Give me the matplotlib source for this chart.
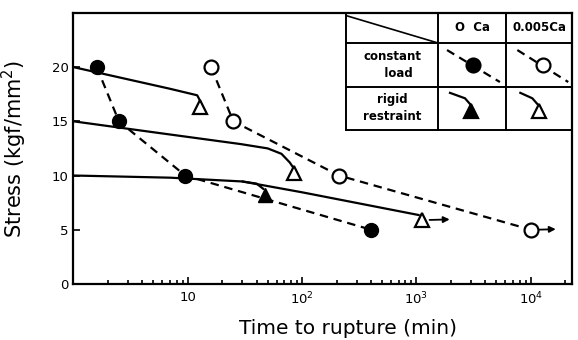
import numpy as np
import matplotlib
matplotlib.use("Agg")
import matplotlib.pyplot as plt
from matplotlib.ticker import FixedLocator, NullFormatter

# constant load (dashed lines with circles)
cl_0ca_t = [1.6, 2.5, 9.5, 400]
cl_0ca_s = [20, 15, 10, 5]
cl_ca_t = [16, 25, 210, 1.0e4]
cl_ca_s = [20, 15, 10, 5]

# rigid restraint (triangles)
rr_0ca_t = [47]
rr_0ca_s = [8.2]
rr_ca_t = [12.9, 85, 1120]
rr_ca_s = [16.3, 10.2, 5.9]

# traced rigid-restraint stress relaxation curves
curve_20_t = [1, 7, 12.1, 12.8]
curve_20_s = [20, 18.0, 17.4, 16.9]
curve_15_t = [1, 5.8, 29, 50, 66, 78, 84]
curve_15_s = [15, 13.9, 12.9, 12.5, 12.0, 11.2, 10.7]
curve_10_t = [1, 7, 30, 100, 1050]
curve_10_s = [10, 9.8, 9.45, 8.45, 6.35]
branch_t = [30, 40, 46]
branch_s = [9.45, 9.25, 8.75]

# "not ruptured" arrows
arrow_tri_t = [1300, 1950]
arrow_tri_s = [5.9, 5.95]
arrow_circ_t = [1.15e4, 1.65e4]
arrow_circ_s = [5.0, 5.05]

y_ticks = [0, 5, 10, 15, 20]
x_ticks = [10, 100, 1000, 10000]
x_ticklabels = ["10", "10$^2$", "10$^3$", "10$^4$"]

LW = 1.6
DASH = (3.8, 2.6)
MS = 10

fig = plt.figure(figsize=(5.78, 3.4), dpi=100)
ax = fig.add_axes([0.127, 0.165, 0.863, 0.797])
ax.set_xscale("log")
ax.set_xlim(1, 2.3e4)
ax.set_ylim(0, 25)

# solid curves
for t, s in [(curve_20_t, curve_20_s), (curve_15_t, curve_15_s),
             (curve_10_t, curve_10_s), (branch_t, branch_s)]:
    ax.plot(t, s, color="black", lw=LW, solid_capstyle="round",
            solid_joinstyle="round")

# dashed constant-load lines
ax.plot(cl_0ca_t, cl_0ca_s, color="black", lw=LW, dashes=DASH, zorder=2)
ax.plot(cl_ca_t, cl_ca_s, color="black", lw=LW, dashes=DASH, zorder=2)

# markers
ax.plot(cl_0ca_t, cl_0ca_s, "o", ms=MS, mfc="black", mec="black", zorder=4)
ax.plot(cl_ca_t, cl_ca_s, "o", ms=MS, mfc="white", mec="black", mew=1.6, zorder=4)
ax.plot(rr_0ca_t, rr_0ca_s, "^", ms=MS, mfc="black", mec="black", zorder=4)
ax.plot(rr_ca_t, rr_ca_s, "^", ms=MS, mfc="white", mec="black", mew=1.6, zorder=4)

for t, s in [(arrow_tri_t, arrow_tri_s), (arrow_circ_t, arrow_circ_s)]:
    ax.annotate("", xy=(t[1], s[1]), xytext=(t[0], s[0]),
                arrowprops=dict(arrowstyle="-|>", color="black", lw=1.3,
                                mutation_scale=9, shrinkA=0, shrinkB=0))

# axes styling
ax.set_yticks(y_ticks)
ax.xaxis.set_major_locator(FixedLocator(x_ticks))
ax.set_xticklabels(x_ticklabels)
minor = [m * 10 ** d for d in range(0, 5) for m in range(2, 10) if m * 10 ** d < 2.3e4]
ax.xaxis.set_minor_locator(FixedLocator(minor))
ax.xaxis.set_minor_formatter(NullFormatter())
ax.tick_params(which="both", direction="in", width=1.2, labelsize=9.5)
ax.tick_params(which="major", length=5)
ax.tick_params(which="minor", length=3)
ax.tick_params(axis="x", pad=5)
for sp in ax.spines.values():
    sp.set_linewidth(1.6)

ax.set_xlabel("Time to rupture (min)", fontsize=14.5)
ax.xaxis.set_label_coords(0.55, -0.13)
ax.set_ylabel("Stress (kgf/mm$^2$)", fontsize=15)
ax.yaxis.set_label_coords(-0.09, 0.5)

# legend table in the upper right
T = ax.transAxes
tab_kw = dict(color="black", lw=1.4, transform=T, clip_on=False)
x0, x1, x2, x3 = 0.547, 0.731, 0.868, 1.0
y0, y1, y2, y3 = 1.0, 0.889, 0.727, 0.568
ax.plot([x0, x0], [y0, y3], **tab_kw)
ax.plot([x1, x1], [y0, y3], **tab_kw)
ax.plot([x2, x2], [y0, y3], **tab_kw)
ax.plot([x0, x3], [y1, y1], **tab_kw)
ax.plot([x0, x3], [y2, y2], **tab_kw)
ax.plot([x0, x3], [y3, y3], **tab_kw)
ax.plot([x0, x1], [y0 - 0.01, y1], color="black", lw=1.2, transform=T)

txt = dict(transform=T, ha="center", va="center", fontsize=8.5, fontweight="bold")
ax.text((x1 + x2) / 2, 0.945, "O  Ca", **txt)
ax.text((x2 + x3) / 2, 0.945, "0.005Ca", **txt)
ax.text((x0 + x1) / 2, 0.806, "constant\n   load", linespacing=1.4, **txt)
ax.text((x0 + x1) / 2, 0.648, "rigid\nrestraint", linespacing=1.4, **txt)

# legend symbols
for xs, filled in [((0.749, 0.855), True), ((0.890, 0.992), False)]:
    ax.plot(xs, (0.863, 0.745), color="black", lw=LW, dashes=DASH, transform=T)
    ax.plot([(xs[0] + xs[1]) / 2], [0.806], "o", ms=MS, transform=T,
            mfc="black" if filled else "white", mec="black", mew=1.6)
for (xa, xb, xc), filled in [((0.755, 0.785, 0.795), True), ((0.896, 0.920, 0.930), False)]:
    ax.plot([xa, xb, xc], [0.705, 0.685, 0.664], color="black", lw=LW, transform=T)
    ax.plot([xc + 0.003], [0.638], "^", ms=MS, transform=T,
            mfc="black" if filled else "white", mec="black", mew=1.6)

fig.savefig("out.png", dpi=100)
